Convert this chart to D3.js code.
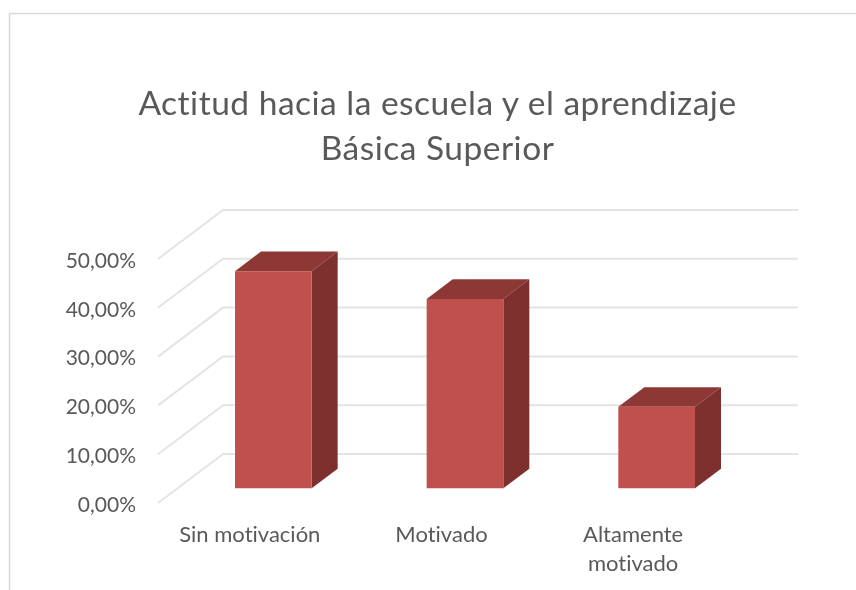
<!DOCTYPE html>
<html>
<head>
<meta charset="utf-8">
<script src="https://cdn.jsdelivr.net/npm/d3@7"></script>
<style>
html, body { margin: 0; padding: 0; background: #fff; }
svg { filter: blur(0.45px); }
text { font-family: Lato, "Open Sans", sans-serif; fill: #595959; font-variant-ligatures: none; }
</style>
</head>
<body>
<div id="chart"></div>
<script>
var svgWidth = 856;
var svgHeight = 590;

// values
var categories = ["Sin motivación", "Motivado", "Altamente motivado"];
var categoryLines = [["Sin motivación"], ["Motivado"], ["Altamente", "motivado"]];
var values = [44.5, 38.8, 16.7];
var yTicks = [0, 10, 20, 30, 40, 50];
var titleLines = ["Actitud hacia la escuela y el aprendizaje", "Básica Superior"];

// 3d projection of the chart box
var depthX = 65;
var depthY = 49;
var barDepthStart = 0.3;
var barDepthEnd = 0.7;

var svg = d3.select("#chart")
    .append("svg")
    .attr("width", svgWidth)
    .attr("height", svgHeight)
    .style("display", "block");

// chart frame, open on the right and bottom
svg.append("path")
    .attr("d", "M9.5,590V13.5H856")
    .attr("fill", "none")
    .attr("stroke", "#d9d9d9")
    .attr("stroke-width", 1.5);

// front plane scales
var xScale = d3.scaleBand()
    .domain(categories)
    .range([158, 733])
    .paddingInner(0.6)
    .paddingOuter(0.3);

var yScale = d3.scaleLinear()
    .domain([0, 50])
    .range([503, 259]);

// takes a point on the front plane and pushes it back
function project(x, v, depth) {
    return [x + depth * depthX, yScale(v) - depth * depthY];
}

// gridlines: diagonal on the side wall then flat along the back wall
var line = d3.line();
svg.append("g")
    .selectAll("path")
    .data(yTicks)
    .enter()
    .append("path")
    .attr("d", d => line([project(158, d, 0), project(158, d, 1), project(733, d, 1)]))
    .attr("fill", "none")
    .attr("stroke", "#e4e4e4")
    .attr("stroke-width", 2);

// bars
var bars = svg.append("g")
    .selectAll("g")
    .data(categories)
    .enter()
    .append("g");

function face(corners) {
    return line(corners) + "Z";
}

bars.append("path")
    .attr("d", (d, i) => {
        var x0 = xScale(d), x1 = x0 + xScale.bandwidth();
        return face([
            project(x0, values[i], barDepthStart),
            project(x0, values[i], barDepthEnd),
            project(x1, values[i], barDepthEnd),
            project(x1, values[i], barDepthStart)
        ]);
    })
    .attr("fill", "#8e3836");

bars.append("path")
    .attr("d", (d, i) => {
        var x1 = xScale(d) + xScale.bandwidth();
        return face([
            project(x1, values[i], barDepthStart),
            project(x1, values[i], barDepthEnd),
            project(x1, 0, barDepthEnd),
            project(x1, 0, barDepthStart)
        ]);
    })
    .attr("fill", "#7d302e");

bars.append("path")
    .attr("d", (d, i) => {
        var x0 = xScale(d), x1 = x0 + xScale.bandwidth();
        return face([
            project(x0, values[i], barDepthStart),
            project(x1, values[i], barDepthStart),
            project(x1, 0, barDepthStart),
            project(x0, 0, barDepthStart)
        ]);
    })
    .attr("fill", "#c0504d");

// y axis labels
var yAxis = d3.axisLeft(yScale)
    .tickValues(yTicks)
    .tickSize(0)
    .tickPadding(0)
    .tickFormat(d => d3.format(".2f")(d).replace(".", ",") + "%");

var yAxisGroup = svg.append("g")
    .attr("transform", "translate(136,1.5)")
    .call(yAxis);
yAxisGroup.select(".domain").remove();
yAxisGroup.selectAll("text")
    .style("font-size", "21px");

// category labels, on the front plane
var labels = svg.append("g")
    .selectAll("text")
    .data(categories)
    .enter()
    .append("text")
    .attr("text-anchor", "middle")
    .style("font-size", "22px");

labels.selectAll("tspan")
    .data((d, i) => categoryLines[i].map(t => ({ text: t, cat: d })))
    .enter()
    .append("tspan")
    .attr("x", d => xScale(d.cat) + xScale.bandwidth() / 2 - 4)
    .attr("y", (d, i) => 542 + i * 29)
    .text(d => d.text);

// title
svg.append("g")
    .selectAll("text")
    .data(titleLines)
    .enter()
    .append("text")
    .attr("x", 437.5)
    .attr("y", (d, i) => 114.5 + i * 45)
    .attr("text-anchor", "middle")
    .style("font-size", "33.5px")
    .style("letter-spacing", "0.5px")
    .text(d => d);
</script>
</body>
</html>
